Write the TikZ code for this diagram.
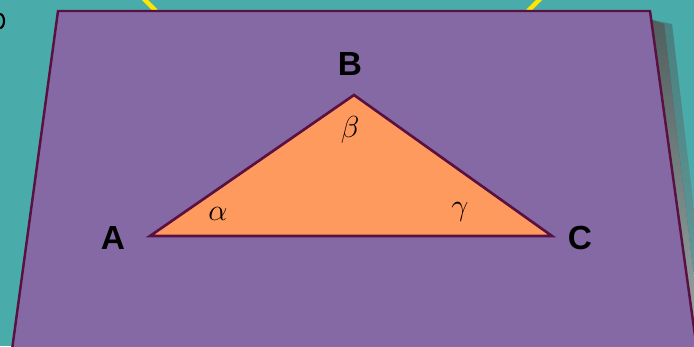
\documentclass[tikz,border=0pt]{standalone}
\usepackage{tikz}
\usepackage{xcolor}
\usepackage{amsmath}
\usepackage{fontspec}
\setsansfont{Liberation Sans}
\usetikzlibrary{positioning}

\definecolor{bgteal}{HTML}{4AACAA}
\definecolor{plane}{HTML}{8469A5}
\definecolor{tri}{HTML}{FF9A5E}
\definecolor{edge}{HTML}{5A1040}
\definecolor{ray}{HTML}{FFE600}
\definecolor{shade}{HTML}{1F4F4C}

\begin{document}
\begin{tikzpicture}[
    x=0.02cm, y=-0.02cm,
    vertex/.style={font=\sffamily\bfseries\fontsize{19}{19}\selectfont, text=black},
    angle/.style={font=\LARGE, text=black}
]
    % Background
    \fill[bgteal] (0,0) rectangle (694,346);
    \useasboundingbox (0,0) rectangle (694,346);

    % Sun rays
    \draw[ray, line width=2.5pt] (143,-2) -- (156,11);
    \draw[ray, line width=2.5pt] (541,-2) -- (528,11);

    % Partial glyph at the left
    \draw[black, line width=1.2pt] (0,28) arc (90:-90:4 and 7);

    % Shadow of the plane
    \fill[shade, opacity=0.25] (652,20) -- (672,24) -- (710,346) -- (690,346) -- cycle;
    \fill[shade, opacity=0.5] (652,20) -- (664,24) -- (702,346) -- (690,346) -- cycle;

    % Plane
    \draw[edge, line width=1.4pt, fill=plane] (58,11) -- (650,11) -- (697,350) -- (12,350) -- cycle;

    % Triangle
    \coordinate (a) at (150,236);
    \coordinate (b) at (354,95);
    \coordinate (c) at (552,236);
    \draw[edge, line width=1.5pt, fill=tri] (a) -- (b) -- (c) -- cycle;

    % Vertex labels
    \node[vertex] (la) at (113,238) {A};
    \node[vertex] (lb) at (350,64) {B};
    \node[vertex] (lc) at (580,238) {C};

    % Angles
    \node[angle] (alpha) at (218,214) {$\alpha$};
    \node[angle] (beta) at (350,130) {$\beta$};
    \node[angle] (gamma) at (460,212) {$\gamma$};
\end{tikzpicture}
\end{document}
